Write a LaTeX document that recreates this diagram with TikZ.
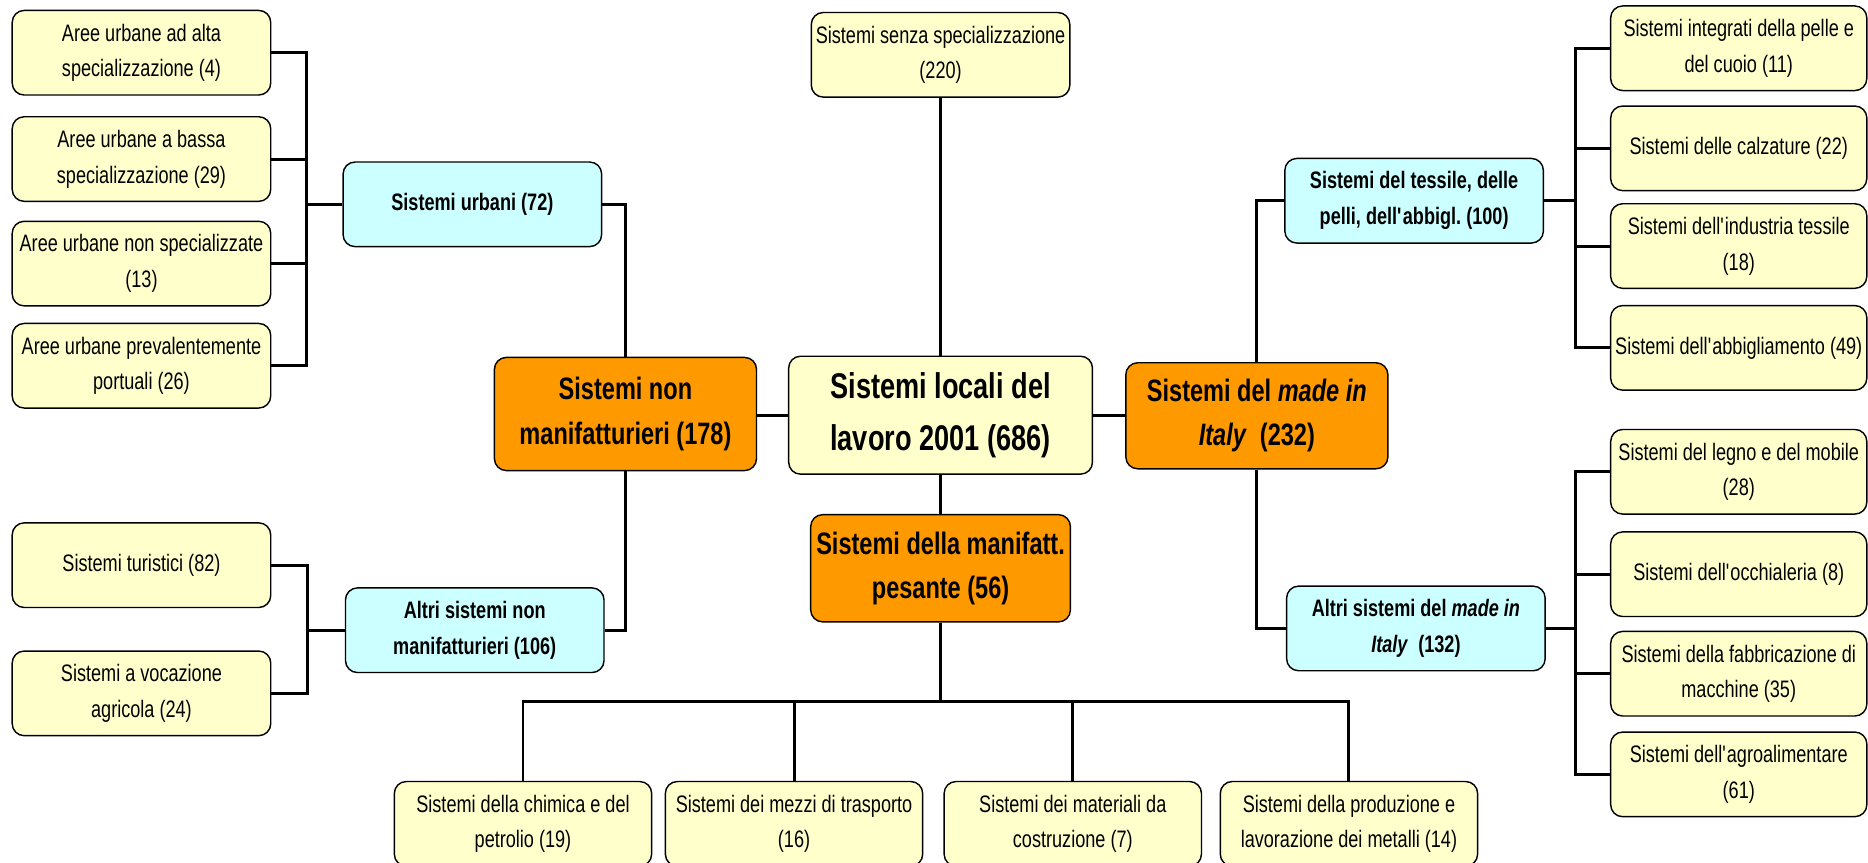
\documentclass[tikz,border=0pt]{standalone}
\usepackage{fontspec}
\setmainfont[FakeStretch=0.76]{Liberation Sans}
\definecolor{leafc}{HTML}{FFFFCC}
\definecolor{midc}{HTML}{CCFFFF}
\definecolor{orc}{HTML}{FF9900}
\newcommand{\apo}{\textquotesingle}
\tikzset{
  base/.style={draw=black, line width=1.2pt, rounded corners=10pt, align=center, inner sep=2pt, text=black},
  leaf/.style={base, fill=leafc, minimum width=217pt, minimum height=71pt, font=\fontsize{20}{30}\selectfont},
  mid/.style={base, fill=midc, minimum width=217pt, minimum height=71pt, font=\bfseries\fontsize{20}{30}\selectfont},
  orng/.style={base, fill=orc, font=\bfseries\fontsize{26}{37}\selectfont},
  rootbox/.style={base, fill=leafc, minimum width=255pt, minimum height=99pt, font=\bfseries\fontsize{30}{43}\selectfont},
  link/.style={line width=2.5pt}
}
\begin{document}
\begin{tikzpicture}[x=1pt,y=-1pt]
\useasboundingbox (0,0) rectangle (1568,724);
% left top group
\node[leaf] (L1) at (118.75,44.25) {Aree urbane ad alta\\specializzazione (4)};
\node[leaf] (L2) at (118.75,133.5) {Aree urbane a bassa\\specializzazione (29)};
\node[leaf] (L3) at (118.75,221.25) {Aree urbane non specializzate\\(13)};
\node[leaf] (L4) at (118.75,307) {Aree urbane prevalentemente\\portuali (26)};
\node[mid] (urb) at (396.5,171.5) {Sistemi urbani (72)};
% left bottom group
\node[leaf] (L5) at (118.75,474.4) {Sistemi turistici (82)};
\node[leaf] (L6) at (118.75,582) {Sistemi a vocazione\\agricola (24)};
\node[mid] (anm) at (398.5,529) {Altri sistemi non\\manifatturieri (106)};
% orange and centre
\node[orng, minimum width=220pt, minimum height=95pt] (nonman) at (525,347.5) {Sistemi non\\manifatturieri (178)};
\node[rootbox] (root) at (789.5,348.5) {Sistemi locali del\\lavoro 2001 (686)};
\node[leaf] (senza) at (789.5,46) {Sistemi senza specializzazione\\(220)};
\node[orng, minimum width=218pt, minimum height=90pt] (pes) at (789.5,477) {Sistemi della manifatt.\\pesante (56)};
\node[orng, minimum width=220pt, minimum height=89pt] (mi) at (1055,349) {Sistemi del \textit{made in}\\\textit{Italy}\ \ (232)};
% right groups
\node[mid] (tess) at (1187,168.5) {Sistemi del tessile, delle\\pelli, dell\apo abbigl.\ (100)};
\node[mid] (ami) at (1188.5,527.5) {Altri sistemi del \textit{made in}\\\textit{Italy}\ \ (132)};
\node[leaf, minimum width=215pt] (R1) at (1459.5,40.5) {Sistemi integrati della pelle e\\del cuoio (11)};
\node[leaf, minimum width=215pt] (R2) at (1459.5,124.5) {Sistemi delle calzature (22)};
\node[leaf, minimum width=215pt] (R3) at (1459.5,206.5) {Sistemi dell\apo industria tessile\\(18)};
\node[leaf, minimum width=215pt] (R4) at (1459.5,292) {Sistemi dell\apo abbigliamento (49)};
\node[leaf, minimum width=215pt] (R5) at (1459.5,396) {Sistemi del legno e del mobile\\(28)};
\node[leaf, minimum width=215pt] (R6) at (1459.5,482) {Sistemi dell\apo occhialeria (8)};
\node[leaf, minimum width=215pt] (R7) at (1459.5,565.5) {Sistemi della fabbricazione di\\macchine (35)};
\node[leaf, minimum width=215pt] (R8) at (1459.5,650) {Sistemi dell\apo agroalimentare\\(61)};
% bottom group
\node[leaf, minimum width=216pt] (B1) at (439,691.5) {Sistemi della chimica e del\\petrolio (19)};
\node[leaf, minimum width=216pt] (B2) at (666.5,691.5) {Sistemi dei mezzi di trasporto\\(16)};
\node[leaf, minimum width=216pt] (B3) at (900.5,691.5) {Sistemi dei materiali da\\costruzione (7)};
\node[leaf, minimum width=216pt] (B4) at (1132.3,691.5) {Sistemi della produzione e\\lavorazione dei metalli (14)};
% junction coordinates
\coordinate (ju) at (257,171.5);
\coordinate (ja) at (258,529);
\coordinate (jt) at (1322.6,168.5);
\coordinate (jm) at (1322.6,527.5);
\coordinate (jb) at (789.5,588.5);
% connectors
\begin{scope}[link]
\draw (urb.west) -- (ju) |- (L1.east);
\draw (ju) |- (L2.east);
\draw (ju) |- (L3.east);
\draw (ju) |- (L4.east);
\draw (anm.west) -- (ja) |- (L5.east);
\draw (ja) |- (L6.east);
\draw (nonman.north) |- (urb.east);
\draw (nonman.south) |- (anm.east);
\draw (root.west) -- (root.west -| nonman.east);
\draw (root.east) -- (root.east -| mi.west);
\draw (senza.south) -- (root.north);
\draw (root.south) -- (pes.north);
\draw (mi.north) |- (tess.west);
\draw (mi.south) |- (ami.west);
\draw (tess.east) -- (jt) |- (R1.west);
\draw (jt) |- (R2.west);
\draw (jt) |- (R3.west);
\draw (jt) |- (R4.west);
\draw (ami.east) -- (jm) |- (R5.west);
\draw (jm) |- (R6.west);
\draw (jm) |- (R7.west);
\draw (jm) |- (R8.west);
\draw (pes.south) -- (jb) -| (B1.north);
\draw (jb) -| (B2.north);
\draw (jb) -| (B3.north);
\draw (jb) -| (B4.north);
\end{scope}
\end{tikzpicture}
\end{document}
